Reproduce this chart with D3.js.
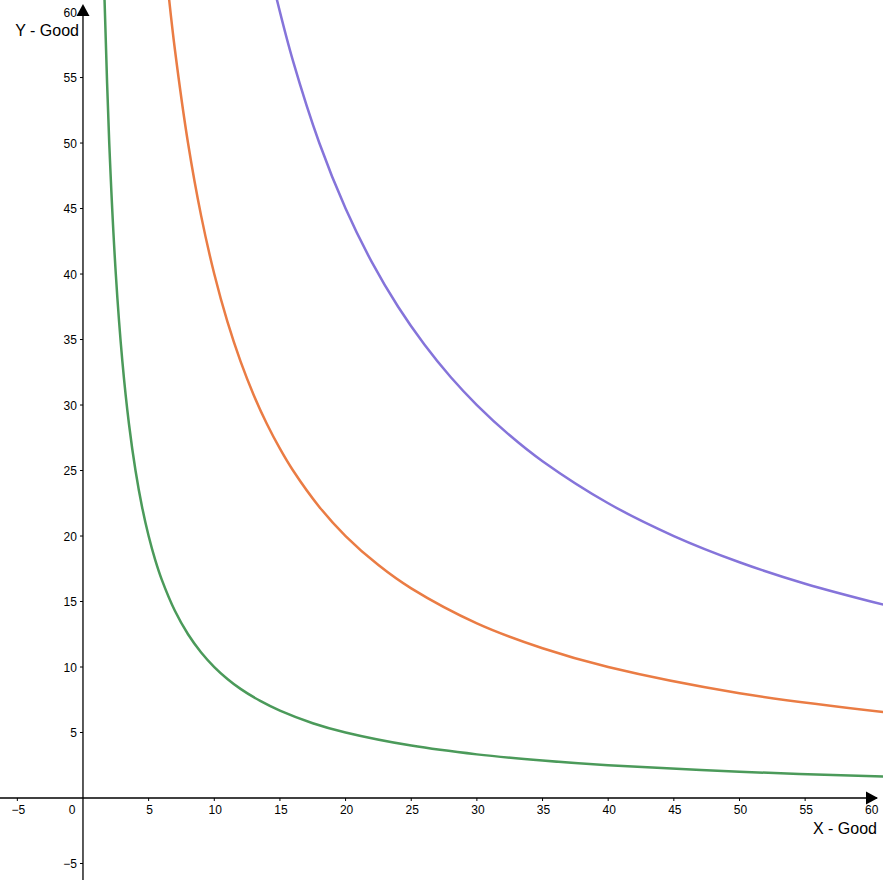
<!DOCTYPE html>
<html><head><meta charset="utf-8">
<script src="https://cdn.jsdelivr.net/npm/d3@7"></script>
<style>html,body{margin:0;padding:0;background:#fff;}svg{display:block;}</style>
</head><body>
<script>
// Values
const greenX = [1.64, 2, 2.5, 3, 3.5, 4, 4.5, 5, 5.5, 6, 7, 8, 9, 10, 11, 12, 13.5, 15, 17.5, 20, 25, 30, 35, 40, 50, 61];
const greenY = [61, 50, 40, 33.33, 28.57, 25, 22.22, 20, 18.18, 16.67, 14.29, 12.5, 11.11, 10, 9.09, 8.33, 7.41, 6.67, 5.71, 5, 4, 3.33, 2.86, 2.5, 2, 1.64];
const orangeX = [6.55, 7, 8, 9, 10, 11, 12, 13, 14, 15, 16, 18, 20, 22.5, 25, 30, 35, 40, 50, 61];
const orangeY = [61.07, 57.14, 50, 44.44, 40, 36.36, 33.33, 30.77, 28.57, 26.67, 25, 22.22, 20, 17.78, 16, 13.33, 11.43, 10, 8, 6.56];
const purpleX = [14.75, 16, 18, 20, 22, 24, 26, 28, 30, 32.5, 35, 40, 45, 50, 55, 61];
const purpleY = [61.02, 56.25, 50, 45, 40.91, 37.5, 34.62, 32.14, 30, 27.69, 25.71, 22.5, 20, 18, 16.36, 14.75];
const xTicks = [-5, 0, 5, 10, 15, 20, 25, 30, 35, 40, 45, 50, 55, 60];
const yTicks = [-5, 5, 10, 15, 20, 25, 30, 35, 40, 45, 50, 55, 60];
const seriesNames = ["green", "orange", "purple"];
const seriesColors = ["#4b9a5a", "#ea7c44", "#8574da"];

const W = 883, H = 880;
const x = d3.scaleLinear().domain([-6.32, 60.93]).range([0, W]);
const y = d3.scaleLinear().domain([-6.26, 60.92]).range([H, 0]);

const svg = d3.select("body").append("svg").attr("width", W).attr("height", H)
  .style("font-family", "'Liberation Sans', Arial, sans-serif");

svg.append("defs").append("clipPath").attr("id", "clip")
  .append("rect").attr("x", 0).attr("y", 0).attr("width", W).attr("height", H);

const x0 = x(0), y0 = y(0);

// axes
svg.append("line").attr("x1", 0).attr("x2", W - 6).attr("y1", y0).attr("y2", y0)
  .attr("stroke", "#000").attr("stroke-width", 1.3);
svg.append("line").attr("x1", x0).attr("x2", x0).attr("y1", H).attr("y2", 6)
  .attr("stroke", "#000").attr("stroke-width", 1.3);

// ticks
const fmt = v => v < 0 ? "\u2212" + Math.abs(v) : String(v);
xTicks.forEach(t => {
  const px = x(t);
  if (t !== 0) svg.append("line").attr("x1", px).attr("x2", px).attr("y1", y0).attr("y2", y0 + 3)
    .attr("stroke", "#000").attr("stroke-width", 1);
  svg.append("text").attr("x", t === 0 ? x0 - 11 : px + 1).attr("y", y0 + 16)
    .attr("text-anchor", "middle").attr("font-size", 12).attr("fill", "#000").text(fmt(t));
});
yTicks.forEach(t => {
  const py = y(t);
  svg.append("line").attr("x1", x0 - 3).attr("x2", x0).attr("y1", py).attr("y2", py)
    .attr("stroke", "#000").attr("stroke-width", 1);
  svg.append("text").attr("x", x0 - 6).attr("y", py + 4.5)
    .attr("text-anchor", "end").attr("font-size", 12).attr("fill", "#000").text(fmt(t));
});

// curves
const line = d3.line().x(d => x(d[0])).y(d => y(d[1])).curve(d3.curveCatmullRom.alpha(0.5));
const series = [
  greenX.map((v, i) => [v, greenY[i]]),
  orangeX.map((v, i) => [v, orangeY[i]]),
  purpleX.map((v, i) => [v, purpleY[i]])
];
const g = svg.append("g").attr("clip-path", "url(#clip)");
series.forEach((s, i) => {
  g.append("path").attr("d", line(s)).attr("fill", "none")
    .attr("stroke", seriesColors[i]).attr("stroke-width", 2.5)
    .attr("class", seriesNames[i]);
});

// arrows
svg.append("path").attr("d", `M${x0},${4} L${x0 - 6.5},${16} L${x0 + 6.5},${16} Z`).attr("fill", "#000");
svg.append("path").attr("d", `M${W - 5},${y0} L${W - 17},${y0 - 6.5} L${W - 17},${y0 + 6.5} Z`).attr("fill", "#000");

// axis labels
svg.append("text").attr("x", 79).attr("y", 36).attr("text-anchor", "end")
  .attr("font-size", 16).attr("fill", "#000").text("Y - Good");
svg.append("text").attr("x", 877).attr("y", 834).attr("text-anchor", "end")
  .attr("font-size", 16).attr("fill", "#000").text("X - Good");
</script>
</body></html>
